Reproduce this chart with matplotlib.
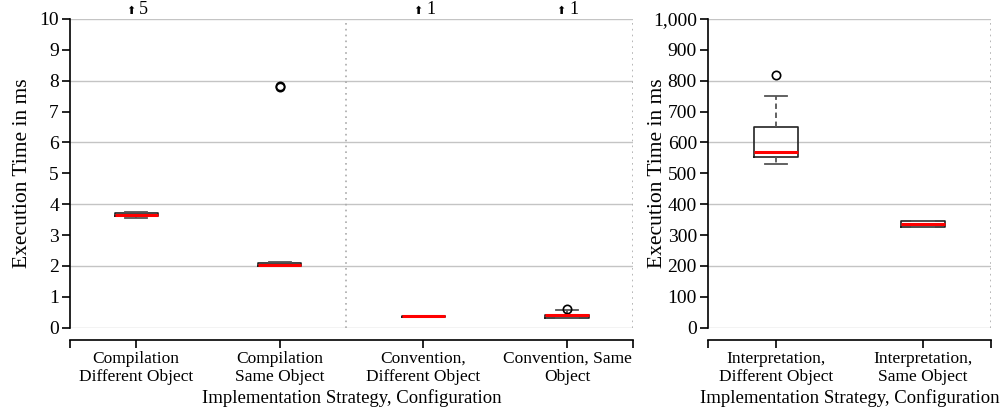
import matplotlib
matplotlib.use("Agg")
import matplotlib.pyplot as plt
from matplotlib.ticker import FuncFormatter, FixedLocator

plt.rcParams['font.family'] = ['Liberation Serif', 'DejaVu Sans']
plt.rcParams['font.size'] = 12.5

# left panel: compilation / convention (ms)
left_labels = ["Compilation\nDifferent Object", "Compilation\nSame Object",
               "Convention,\nDifferent Object", "Convention, Same\nObject"]
left_whislo = [3.55, 2.00, 0.37, 0.30]
left_q1 = [3.62, 2.01, 0.36, 0.32]
left_med = [3.66, 2.04, 0.37, 0.40]
left_q3 = [3.72, 2.09, 0.38, 0.42]
left_whishi = [3.75, 2.12, 0.38, 0.56]
left_fliers = [[], [7.80, 7.83], [], [0.60]]
left_offscale = [5, 0, 1, 1]

# right panel: interpretation (ms)
right_labels = ["Interpretation,\nDifferent Object", "Interpretation,\nSame Object"]
right_whislo = [530, 325]
right_q1 = [554, 326]
right_med = [568, 336]
right_q3 = [649, 345]
right_whishi = [751, 346]
right_fliers = [[817], []]

grid_col = "#c4c4c4"


def make_stats(lo, q1, med, q3, hi, fl):
    return [dict(whislo=a, q1=b, med=c, q3=d, whishi=e, fliers=f)
            for a, b, c, d, e, f in zip(lo, q1, med, q3, hi, fl)]


def draw_panel(ax, stats, labels, ymax, ystep, gstep, dividers):
    pos = list(range(1, len(stats) + 1))
    ax.bxp(stats, positions=pos, widths=0.3, showfliers=True,
           boxprops=dict(color="#222222", linewidth=1.2),
           medianprops=dict(color="red", linewidth=2.2),
           whiskerprops=dict(color="#555555", linewidth=1.3, linestyle=(0, (3, 2))),
           capprops=dict(color="#555555", linewidth=1.3),
           flierprops=dict(marker="o", markerfacecolor="none", markeredgecolor="black",
                           markersize=6, markeredgewidth=1.2))
    for g in range(0, int(ymax) + 1, gstep):
        ax.axhline(g, color=grid_col, linewidth=1.0, zorder=0)
    for d in dividers:
        ax.axvline(d, color="#aaaaaa", linewidth=1.2, linestyle=(0, (1, 2.5)), zorder=0)
    ax.set_xlim(0.54, len(stats) + 0.46)
    ax.set_ylim(0, ymax)
    ax.set_yticks(range(0, int(ymax) + 1, ystep))
    ax.set_xticks(pos)
    ax.set_xticklabels(labels, fontsize=13, linespacing=1.2)
    ax.xaxis.set_minor_locator(FixedLocator([0.54, len(stats) + 0.46]))
    ax.tick_params(axis="x", which="both", length=6, width=1.2, pad=2)
    ax.tick_params(axis="y", length=6, width=1.2, pad=2, labelsize=14)
    for s in ["top", "right"]:
        ax.spines[s].set_visible(False)
    ax.spines["bottom"].set_position(("outward", 8.5))
    ax.spines["left"].set_bounds(0, ymax)
    ax.spines["left"].set_linewidth(1.2)
    ax.spines["bottom"].set_linewidth(1.2)
    ax.set_ylabel("Execution Time in ms", fontsize=15.5, labelpad=5)
    ax.set_xlabel("Implementation Strategy, Configuration", fontsize=13.5, labelpad=3)


fig = plt.figure(figsize=(10.05, 4.12), dpi=100)
ax1 = fig.add_axes([0.0697, 0.2046, 0.5602, 0.7494])
ax2 = fig.add_axes([0.7045, 0.2046, 0.2815, 0.7494])

draw_panel(ax1, make_stats(left_whislo, left_q1, left_med, left_q3, left_whishi, left_fliers),
           left_labels, 10, 1, 2, [2.46, 4.46])
draw_panel(ax2, make_stats(right_whislo, right_q1, right_med, right_q3, right_whishi, right_fliers),
           right_labels, 1000, 100, 200, [2.46])
ax2.yaxis.set_major_formatter(FuncFormatter(lambda v, p: "{:,.0f}".format(v)))
ax2.yaxis.set_label_coords(-0.145, 0.5)

for i, n in enumerate(left_offscale):
    if n > 0:
        ax1.annotate("\u2b06", xy=(i + 1 - 0.04, 10), xytext=(0, 2), textcoords="offset points",
                     ha="center", va="bottom", fontsize=8, family="DejaVu Sans",
                     annotation_clip=False)
        ax1.annotate(str(n), xy=(i + 1 + 0.05, 10), xytext=(0, 0.5), textcoords="offset points",
                     ha="center", va="bottom", fontsize=13, annotation_clip=False)

fig.savefig("out.png", dpi=100)
